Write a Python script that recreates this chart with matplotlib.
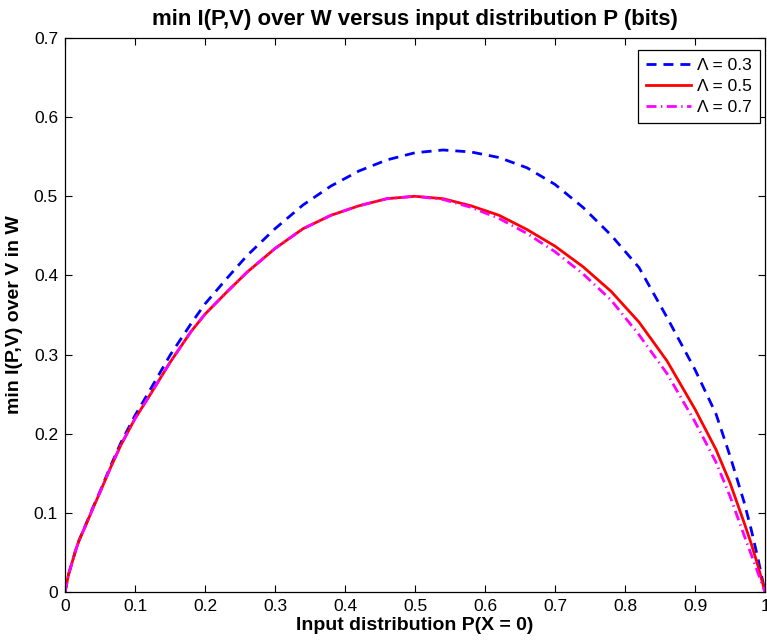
import matplotlib
matplotlib.use("Agg")
import matplotlib.pyplot as plt

# Input distribution P(X=0)
p_grid = [0.0, 0.005, 0.01, 0.015, 0.02, 0.03, 0.04, 0.05, 0.065, 0.08, 0.1, 0.12, 0.15,
          0.18, 0.2, 0.23, 0.26, 0.3, 0.34, 0.38, 0.42, 0.46, 0.5, 0.54, 0.58, 0.62,
          0.66, 0.7, 0.74, 0.78, 0.82, 0.86, 0.9, 0.93, 0.95, 0.97, 0.98, 0.99, 1.0]

# Lambda = 0.3 (blue dashed)
lam03 = [0.0, 0.022, 0.037, 0.052, 0.065, 0.086, 0.107, 0.127, 0.159, 0.189, 0.223, 0.253,
         0.299, 0.339, 0.364, 0.395, 0.425, 0.459, 0.489, 0.513, 0.532, 0.546, 0.555,
         0.5585, 0.556, 0.549, 0.536, 0.515, 0.486, 0.451, 0.410, 0.347, 0.281, 0.225,
         0.172, 0.114, 0.080, 0.042, 0.0]

# Lambda = 0.5 (red solid)
lam05 = [0.0, 0.022, 0.037, 0.052, 0.065, 0.085, 0.106, 0.126, 0.157, 0.186, 0.219, 0.247,
         0.290, 0.329, 0.351, 0.378, 0.404, 0.434, 0.459, 0.476, 0.488, 0.497, 0.500,
         0.497, 0.488, 0.476, 0.458, 0.437, 0.411, 0.380, 0.341, 0.292, 0.231, 0.180,
         0.138, 0.088, 0.062, 0.033, 0.0]

# Lambda = 0.7 (magenta dash-dot)
lam07 = [0.0, 0.022, 0.037, 0.052, 0.065, 0.085, 0.106, 0.126, 0.157, 0.186, 0.219, 0.247,
         0.290, 0.329, 0.351, 0.378, 0.404, 0.434, 0.459, 0.476, 0.488, 0.497, 0.500,
         0.496, 0.486, 0.472, 0.453, 0.430, 0.402, 0.369, 0.325, 0.276, 0.215, 0.164,
         0.121, 0.072, 0.048, 0.024, 0.0]

labels = ["\u039b = 0.3", "\u039b = 0.5", "\u039b = 0.7"]
xticks = [0, 0.1, 0.2, 0.3, 0.4, 0.5, 0.6, 0.7, 0.8, 0.9, 1]
yticks = [0, 0.1, 0.2, 0.3, 0.4, 0.5, 0.6, 0.7]

plt.rcParams['font.family'] = ['Liberation Sans', 'DejaVu Sans']

fig = plt.figure(figsize=(7.67, 6.42), dpi=100)
ax = fig.add_axes([65/767, 1 - 592/642, (765-65)/767, (592-38)/642])

ax.plot(p_grid, lam03, color='#0000ff', lw=2.0, dashes=(3.6, 2.5), label=labels[0])
ax.plot(p_grid, lam05, color='#ff0000', lw=2.0, label=labels[1])
ax.plot(p_grid, lam07, color='#ff00ff', lw=2.0, dashes=(3.6, 1.6, 0.5, 1.6), label=labels[2])

ax.set_xlim(0, 1)
ax.set_ylim(0, 0.7)
ax.set_xticks(xticks)
ax.set_xticklabels([f"{t:g}" for t in xticks])
ax.set_yticks(yticks)
ax.set_yticklabels([f"{t:g}" for t in yticks])
ax.tick_params(direction='in', length=5, width=0.8, top=True, right=True,
               labelsize=12.5, pad=5)
for s in ax.spines.values():
    s.set_linewidth(0.9)

ax.set_title("min I(P,V) over W versus input distribution P (bits)",
             fontsize=16, fontweight='bold', pad=9)
ax.set_xlabel("Input distribution P(X = 0)", fontsize=14, fontweight='bold', labelpad=2)
ax.set_ylabel("min I(P,V) over V in W", fontsize=14, fontweight='bold', labelpad=8)

leg = ax.legend(loc='upper right', fontsize=12.5, frameon=True, fancybox=False,
                edgecolor='black', framealpha=1, handlelength=2.6, handletextpad=0.35,
                borderpad=0.45, labelspacing=0.35, borderaxespad=0.0,
                bbox_to_anchor=((760-65)/700, 1 - (50-38)/554))
leg.get_frame().set_linewidth(0.9)

fig.savefig("out.png", dpi=100)
